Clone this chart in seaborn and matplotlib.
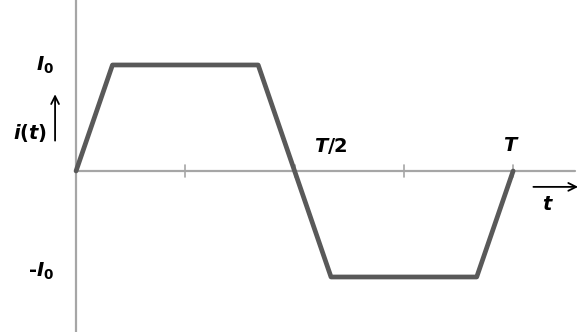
import pandas as pd
import seaborn as sns
import matplotlib.pyplot as plt

# one period of the trapezoidal current, time in units of T, current in units of I0
t_pts = [0, 1/12, 5/12, 7/12, 11/12, 1]
i_pts = [0, 1, 1, -1, -1, 0]
tick_pos = [0.25, 0.5, 0.75, 1.0]

wave = pd.DataFrame({"t": t_pts, "i": i_pts})

sns.set_style("white")
plt.rcParams["font.family"] = ["DejaVu Sans"]
plt.rcParams["mathtext.fontset"] = "custom"
plt.rcParams["mathtext.it"] = "DejaVu Sans:italic:bold"
plt.rcParams["mathtext.rm"] = "DejaVu Sans:bold"
plt.rcParams["mathtext.bf"] = "DejaVu Sans:bold"

fig = plt.figure(figsize=(5.87, 3.32), dpi=100)
ax = fig.add_axes([0, 0, 1, 1])
ax.set_xlim(-0.174, 1.169)
ax.set_ylim(-1.519, 1.613)
ax.axis("off")

axis_col = "#a6a6a6"
ax.plot([0, 1.142], [0, 0], color=axis_col, lw=1.6, zorder=1)
ax.plot([0, 0], [-1.519, 1.613], color=axis_col, lw=1.6, zorder=1)
for x in tick_pos:
    ax.plot([x, x], [-0.06, 0.06], color=axis_col, lw=1.2, zorder=1)

sns.lineplot(data=wave, x="t", y="i", ax=ax, color="#595959", lw=3.4,
             sort=False, zorder=3)

lab = dict(fontsize=14, fontweight="bold", color="black")
ax.text(-0.05, 1.0, r"$I_0$", ha="right", va="center", **lab)
ax.text(-0.05, -0.95, r"-$I_0$", ha="right", va="center", **lab)
ax.text(-0.066, 0.36, r"$i$(" + r"$t$)", ha="right", va="center", **lab)
ax.text(0.545, 0.24, r"$T$/2", ha="left", va="center", **lab)
ax.text(0.995, 0.24, r"$T$", ha="center", va="center", **lab)
ax.text(1.08, -0.32, r"$t$", ha="center", va="center", **lab)

arr = dict(arrowstyle="->", color="black", lw=1.3, mutation_scale=14)
ax.annotate("", xy=(-0.048, 0.75), xytext=(-0.048, 0.26), arrowprops=arr)
ax.annotate("", xy=(1.155, -0.15), xytext=(1.04, -0.15), arrowprops=arr)

fig.savefig("out.png", dpi=100)
